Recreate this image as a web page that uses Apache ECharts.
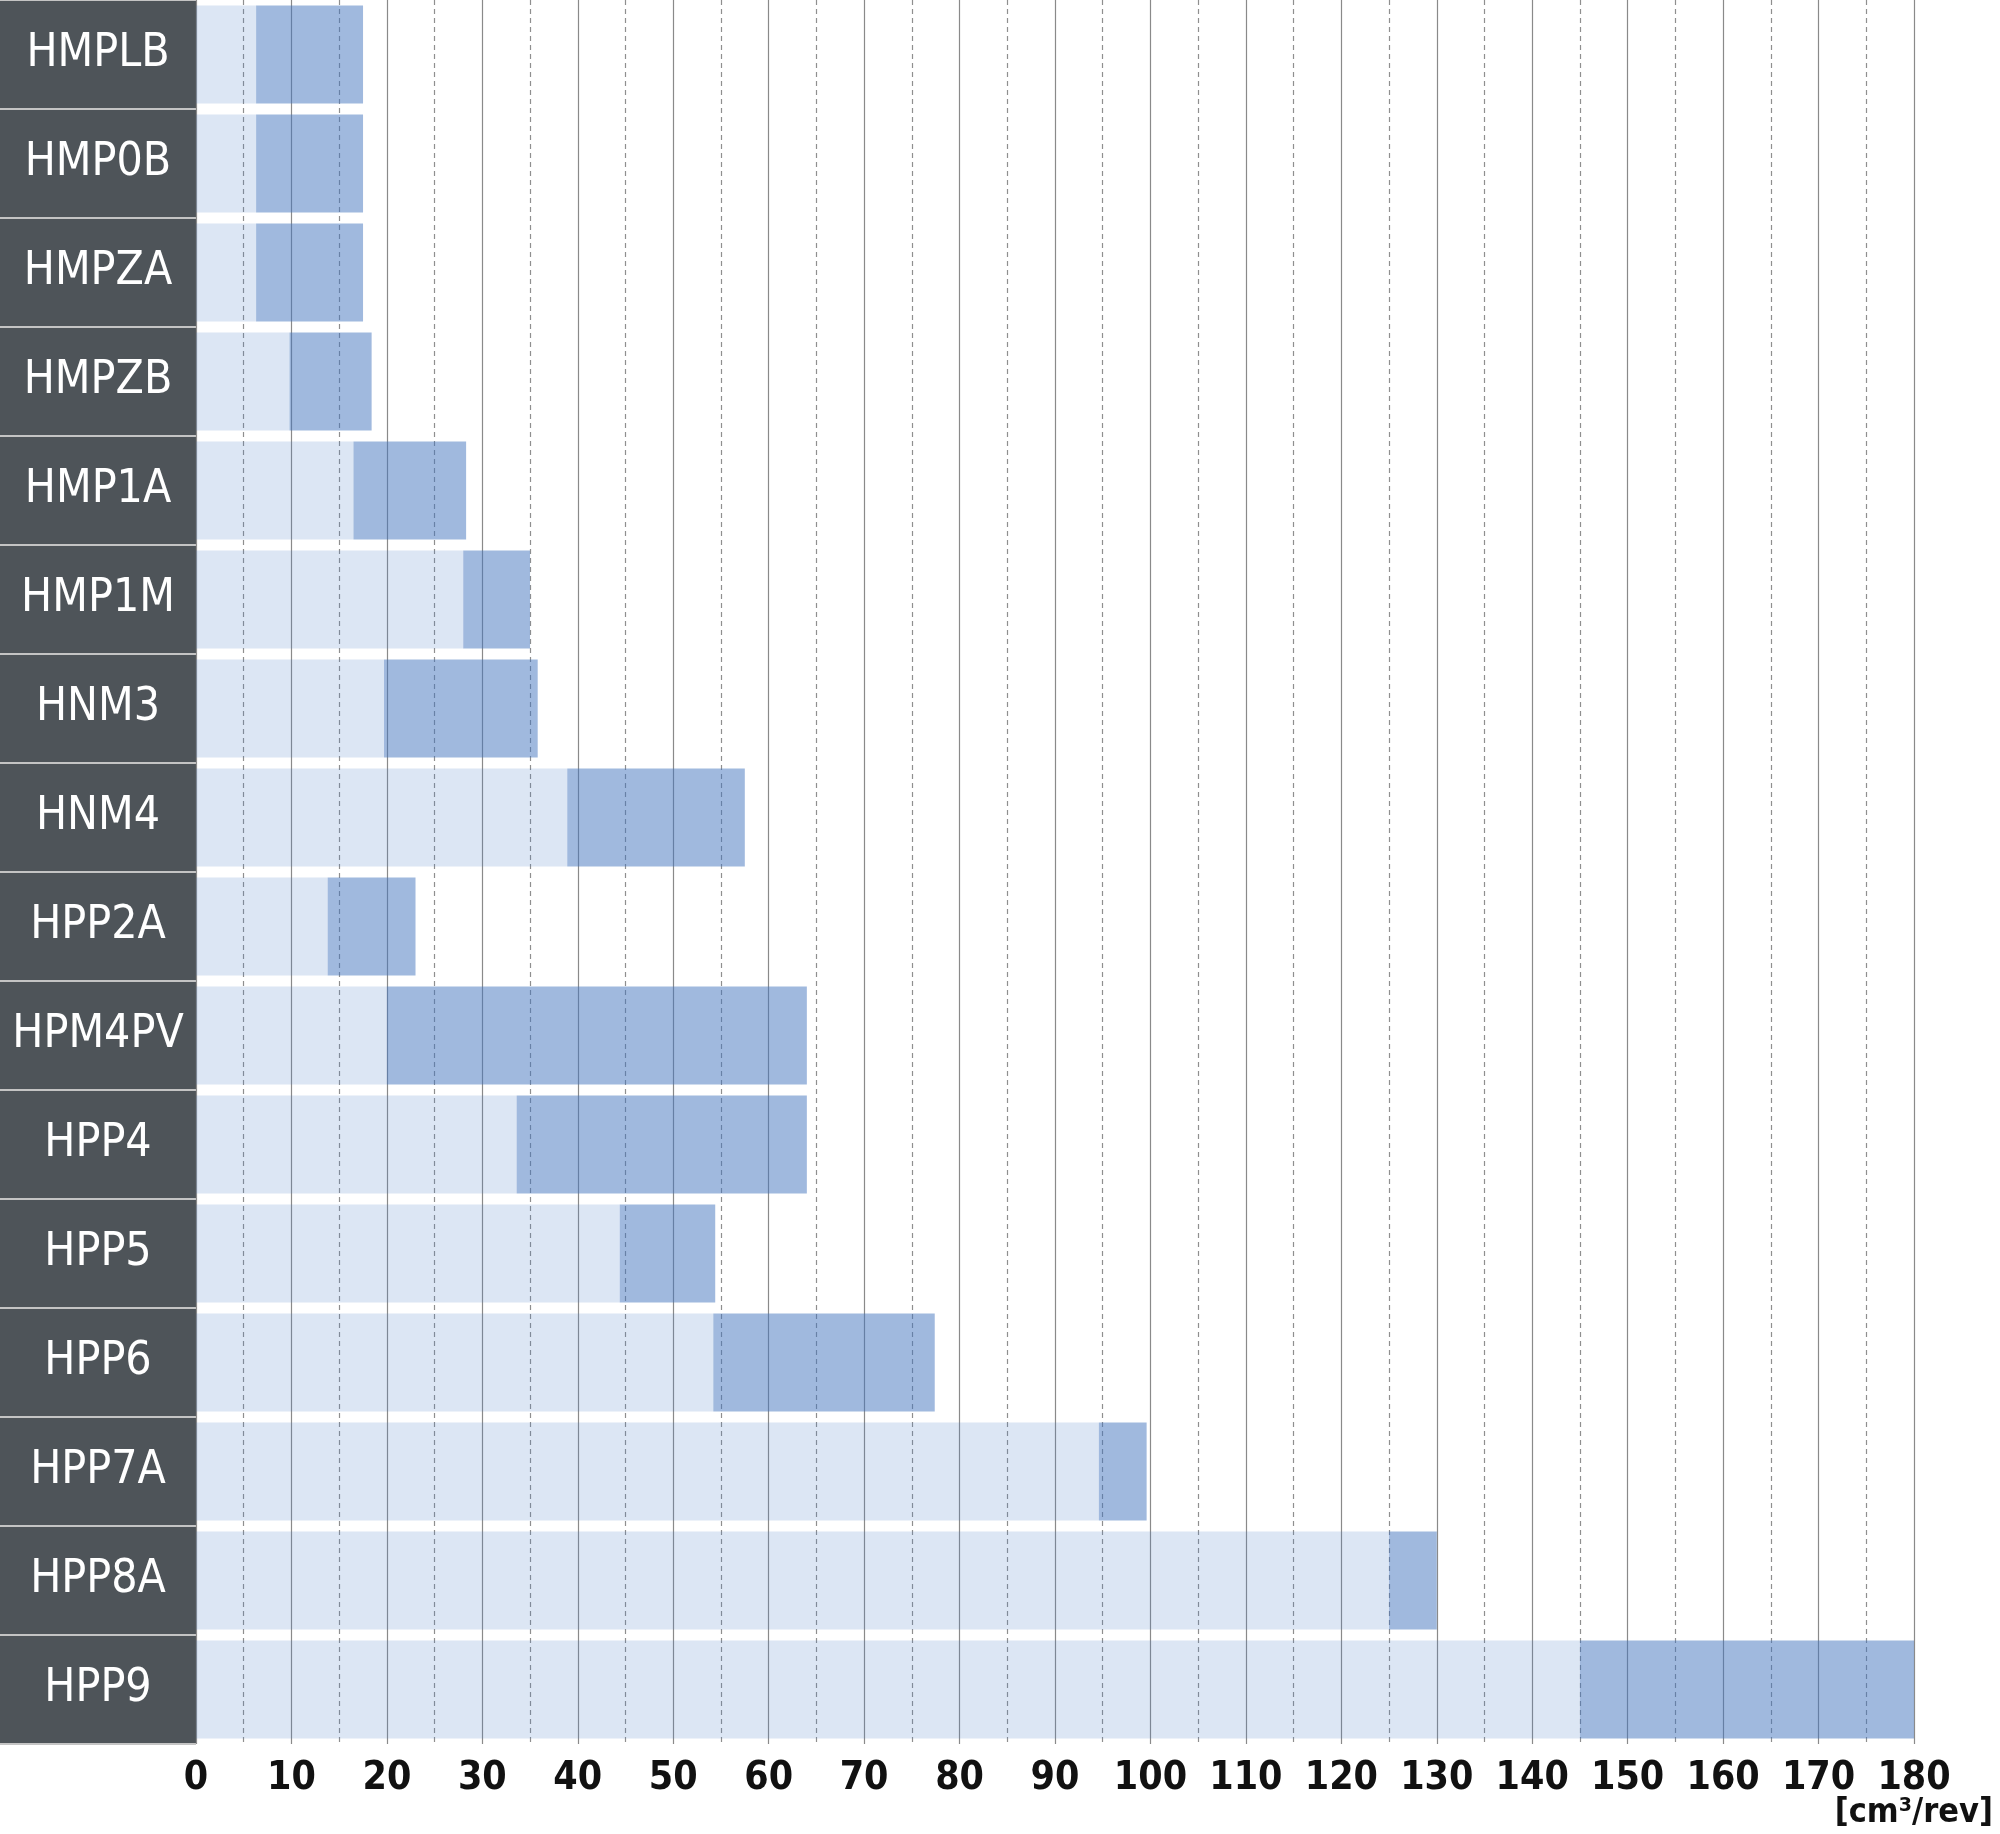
<!DOCTYPE html>
<html>
<head>
<meta charset="utf-8">
<script src="https://cdn.jsdelivr.net/npm/echarts@6/dist/echarts.min.js"></script>
<style>
html,body{margin:0;padding:0;background:#fff;}
#chart{width:2000px;height:1834px;}
</style>
</head>
<body>
<div id="chart"></div>
<script>
const categories = ['HMPLB','HMP0B','HMPZA','HMPZB','HMP1A','HMP1M','HNM3','HNM4','HPP2A','HPM4PV','HPP4','HPP5','HPP6','HPP7A','HPP8A','HPP9'];
const minValues = [6.3, 6.3, 6.3, 9.8, 16.5, 28.0, 19.7, 38.9, 13.8, 20.0, 33.6, 44.4, 54.2, 94.6, 125, 145];
const maxValues = [17.5, 17.5, 17.5, 18.4, 28.3, 35.0, 35.8, 57.5, 23.0, 64.0, 64.0, 54.4, 77.4, 99.6, 130, 180];
const xTicks = { min: 0, max: 180, interval: 10 };
const unitLabel = '[cm³/rev]';

const rangeValues = maxValues.map((v, i) => +(v - minValues[i]).toFixed(2));
const FONT = "'Liberation Sans Narrow', 'DejaVu Sans Condensed', 'Arial Narrow', sans-serif";

const chart = echarts.init(document.getElementById('chart'), null, { renderer: 'canvas' });
chart.setOption({
  backgroundColor: '#ffffff',
  animation: false,
  title: {
    text: unitLabel,
    right: 2,
    top: 1791,
    textStyle: { fontFamily: FONT, fontSize: 34, fontWeight: 'bold', color: '#111' }
  },
  grid: [
    { left: 0, width: 196, top: 0, bottom: 90, containLabel: false },
    { left: 196, right: 86, top: 0, bottom: 90, containLabel: false }
  ],
  xAxis: [
    { gridIndex: 0, type: 'value', min: 0, max: 1, show: false },
    {
      gridIndex: 1, type: 'value', min: xTicks.min, max: xTicks.max, interval: xTicks.interval,
      axisLine: { show: false }, axisTick: { show: false },
      axisLabel: { fontFamily: FONT, fontSize: 39, fontWeight: 'bold', color: '#111', margin: 15 },
      splitLine: { show: true, lineStyle: { color: '#8a8a8a', width: 1.2 } },
      minorTick: { show: false, splitNumber: 2 },
      minorSplitLine: { show: true, lineStyle: { color: '#8f8f8f', width: 1.2, type: [5, 4] } }
    }
  ],
  yAxis: [
    {
      gridIndex: 0, type: 'category', data: categories, inverse: true, z: 0,
      axisLine: { show: false }, axisTick: { show: false }, axisLabel: { show: false },
      splitArea: { show: true, areaStyle: { color: ['#4e5459'] } },
      splitLine: { show: true, lineStyle: { color: '#c4c4c4', width: 2 } }
    },
    {
      gridIndex: 1, type: 'category', data: categories, inverse: true, z: 5,
      axisLine: { show: false }, axisTick: { show: false },
      axisLabel: { color: '#ffffff', fontFamily: FONT, fontSize: 46, align: 'center', margin: 98, padding: [10, 0, 0, 0] },
      splitLine: { show: false }
    }
  ],
  series: [
    {
      name: 'min', type: 'bar', stack: 'r', xAxisIndex: 1, yAxisIndex: 1,
      barCategoryGap: '10%',
      itemStyle: { color: 'rgba(70,120,195,0.19)' },
      data: minValues
    },
    {
      name: 'range', type: 'bar', stack: 'r', xAxisIndex: 1, yAxisIndex: 1,
      barCategoryGap: '10%',
      itemStyle: { color: 'rgba(65,115,190,0.5)' },
      data: rangeValues
    }
  ]
});
</script>
</body>
</html>
